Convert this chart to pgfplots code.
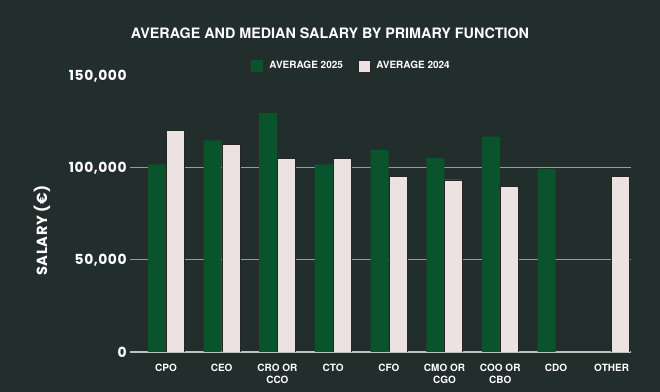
\documentclass[border=0pt]{standalone}
\usepackage{pgfplots}
\pgfplotsset{compat=1.18}
\usepackage{fontspec}
\setmainfont{TeX Gyre Heros}
\newfontfamily\pop{Poppins}[LetterSpace=4]
\definecolor{bgc}{RGB}{33,46,43}
\definecolor{grn}{RGB}{9,84,44}
\definecolor{lite}{RGB}{235,226,225}
\definecolor{gridc}{RGB}{150,155,153}
\definecolor{axisc}{RGB}{190,192,190}
\begin{document}
\begin{tikzpicture}
\fill[bgc] (0,0) rectangle (495pt,294pt);
\useasboundingbox (0,0) rectangle (495pt,294pt);
\node[text=white, font=\fontsize{10.75}{12}\selectfont\bfseries] at (247.5pt,269.25pt) {AVERAGE AND MEDIAN SALARY BY PRIMARY FUNCTION};
\begin{axis}[
  at={(97.5pt,30pt)}, anchor=south west,
  scale only axis, width=375.75pt, height=207pt,
  xmin=-0.646, xmax=8.348, ymin=0, ymax=150000,
  ybar, bar width=0.323,
  xtick={0,...,8},
  xticklabels={CPO, CEO, {CRO OR\\CCO}, CTO, CFO, {CMO OR\\CGO}, {COO OR\\CBO}, CDO, OTHER},
  ytick={50000,100000}, extra y ticks={0,150000}, extra y tick style={grid=none},
  ymajorgrids, grid style={color=gridc, line width=0.75pt},
  major tick length=0,
  axis x line*=bottom, axis y line*=left,
  x axis line style={color=axisc, line width=1.3pt, -},
  y axis line style={draw=none},
  scaled y ticks=false,
  /pgf/number format/fixed,
  /pgf/number format/precision=0,
  /pgf/number format/1000 sep={,},
  /pgf/number format/assume math mode=true,
  yticklabel style={font=\pop\bfseries\fontsize{10.4}{11}\selectfont, text=white, xshift=1pt},
  xticklabel style={font=\bfseries\fontsize{7.5}{9.4}\selectfont, text=white, align=center, anchor=north, yshift=-5.5pt},
  ylabel={SALARY (€)},
  ylabel style={at={(axis description cs:-0.1757,0.44)}, anchor=center, font=\pop\bfseries\fontsize{11}{12}\selectfont, text=white},
  legend columns=2,
  legend style={at={(0.443,1.036)}, anchor=center, draw=none, fill=none, text=white,
    font=\bfseries\fontsize{7.5}{9}\selectfont,
    /tikz/every even column/.append style={column sep=9pt},
    /tikz/every odd column/.append style={column sep=2.5pt}},
]
\addplot[fill=grn, draw=none, bar shift=-0.165,
  legend image code/.code={\fill[grn] (0pt,-4.5pt) rectangle (9pt,4.5pt);}]
  coordinates {(0,102000) (1,115000) (2,130000) (3,102000) (4,109800) (5,105400) (6,117000) (7,99500)};
\addlegendentry{AVERAGE 2025}
\addplot[fill=lite, draw=black!85, line width=0.5pt, bar shift=0.165,
  legend image code/.code={\filldraw[fill=lite, draw=black!85, line width=0.5pt] (0pt,-4.5pt) rectangle (9pt,4.5pt);}]
  coordinates {(0,120300) (1,112800) (2,105400) (3,105400) (4,95500) (5,93500) (6,90100) (8,95500)};
\addlegendentry{AVERAGE 2024}
\end{axis}
\end{tikzpicture}
\end{document}
